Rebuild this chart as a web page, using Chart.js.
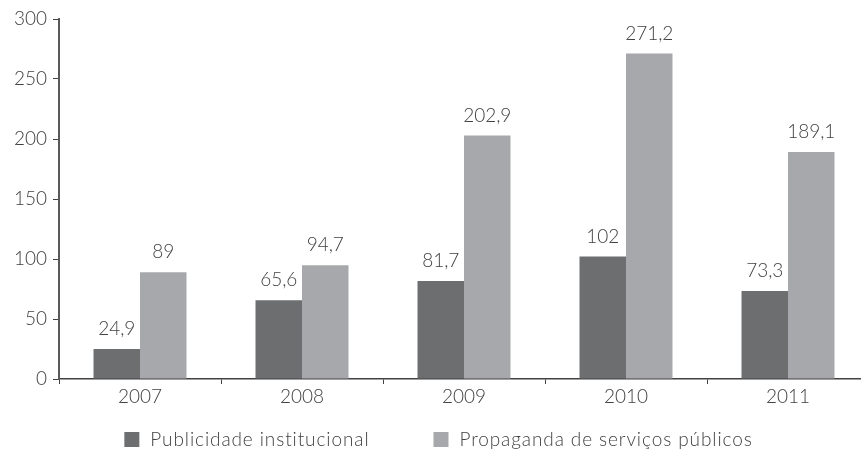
<!DOCTYPE html>
<html>
<head>
<meta charset="utf-8">
<script src="https://cdn.jsdelivr.net/npm/chart.js@4.4.1/dist/chart.umd.min.js"></script>
<style>
  html, body { margin: 0; padding: 0; background: #fff; overflow: hidden; }
  #wrap { width: 869px; height: 450px; position: relative; }
</style>
</head>
<body>
<div id="wrap"><canvas id="barChart"></canvas></div>
<script>
var years = ['2007', '2008', '2009', '2010', '2011'];
var institucional = [24.9, 65.6, 81.7, 102, 73.3];
var servicos = [89, 94.7, 202.9, 271.2, 189.1];
var seriesNames = ['Publicidade institucional', 'Propaganda de serviços públicos'];
var seriesColors = ['#6d6e70', '#a7a8ab'];

var textColor = '#414042';
var fontFamily = 'Lato, "Open Sans", sans-serif';

function fmt(v) {
    return v.toString().replace('.', ',');
}

// value labels above every bar
var valueLabels = {
    id: 'valueLabels',
    afterDatasetsDraw: function (chart) {
        var ctx = chart.ctx;
        ctx.save();
        ctx.font = '300 19px ' + fontFamily;
        ctx.fillStyle = textColor;
        ctx.textAlign = 'center';
        ctx.textBaseline = 'alphabetic';
        chart.data.datasets.forEach(function (ds, i) {
            chart.getDatasetMeta(i).data.forEach(function (bar, j) {
                ctx.fillText(fmt(ds.data[j]), bar.x, bar.y - 14);
            });
        });
        ctx.restore();
    }
};

// legend drawn at the bottom, centred
var bottomLegend = {
    id: 'bottomLegend',
    afterDraw: function (chart) {
        var ctx = chart.ctx;
        var box = 15, gapText = 11, gapItem = 64;
        ctx.save();
        ctx.font = '300 19px ' + fontFamily;
        ctx.letterSpacing = '0.9px';
        var widths = chart.data.datasets.map(function (ds) { return ctx.measureText(ds.label).width; });
        var total = 0;
        widths.forEach(function (w, i) { total += box + gapText + w + (i > 0 ? gapItem : 0); });
        var x = chart.width / 2 - total / 2 + 4;
        var y = 432;
        chart.data.datasets.forEach(function (ds, i) {
            ctx.fillStyle = ds.backgroundColor;
            ctx.fillRect(x, y, box, box);
            ctx.fillStyle = textColor;
            ctx.textBaseline = 'alphabetic';
            ctx.textAlign = 'left';
            ctx.fillText(ds.label, x + box + gapText, y + box - 1);
            x += box + gapText + widths[i] + gapItem;
        });
        ctx.restore();
    }
};

var ctx = document.getElementById('barChart').getContext('2d');
var barChart = new Chart(ctx, {
    type: 'bar',
    data: {
        labels: years,
        datasets: [
            { label: seriesNames[0], data: institucional, backgroundColor: seriesColors[0] },
            { label: seriesNames[1], data: servicos, backgroundColor: seriesColors[1] }
        ]
    },
    options: {
        responsive: true,
        maintainAspectRatio: false,
        animation: false,
        categoryPercentage: 0.574,
        barPercentage: 1,
        layout: { padding: { top: 19, right: 0, bottom: 41, left: 0 } },
        plugins: {
            legend: { display: false },
            tooltip: { enabled: false }
        },
        scales: {
            x: {
                grid: {
                    display: true,
                    offset: true,
                    drawOnChartArea: false,
                    tickLength: 5,
                    color: '#414042'
                },
                border: { color: '#414042', width: 1.5 },
                ticks: {
                    color: textColor,
                    padding: 1,
                    font: { family: fontFamily, size: 19, weight: '300' }
                },
                afterFit: function (scale) { scale.height = 30; }
            },
            y: {
                min: 0,
                max: 300,
                grid: {
                    display: true,
                    drawOnChartArea: false,
                    tickLength: 6,
                    color: '#414042'
                },
                border: { color: '#58595b', width: 2 },
                ticks: {
                    stepSize: 50,
                    color: textColor,
                    padding: 6,
                    font: { family: fontFamily, size: 19, weight: '300' }
                },
                afterFit: function (scale) { scale.width = 59; }
            }
        }
    },
    plugins: [valueLabels, bottomLegend]
});
</script>
</body>
</html>
